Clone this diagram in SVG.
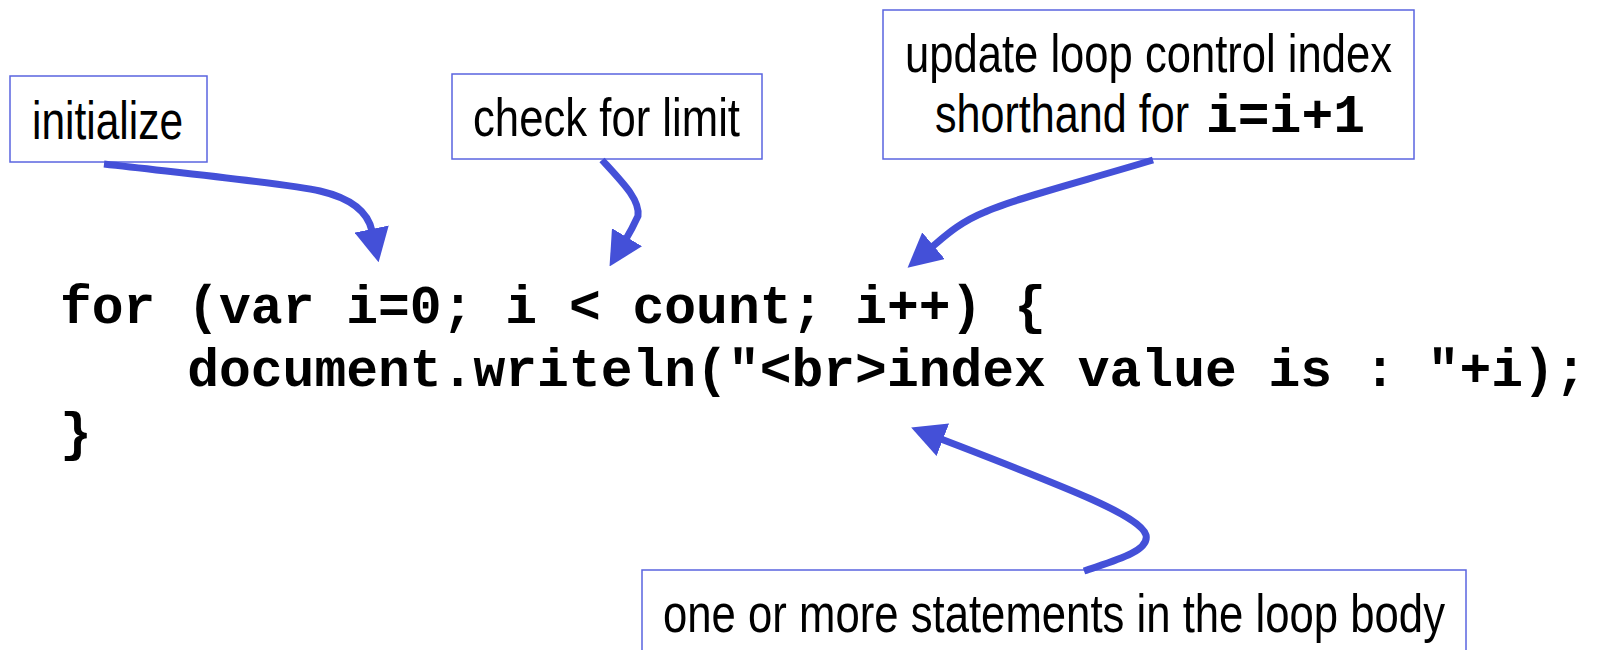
<svg xmlns="http://www.w3.org/2000/svg" width="1599" height="650" viewBox="0 0 1599 650">
  <style>
    .box { fill: #ffffff; stroke: #5a64e0; stroke-width: 1.5; }
    .lbl { font-family: "Liberation Sans", Arial, sans-serif; font-size: 53px; fill: #000000; }
    .code { font-family: "Liberation Mono", "Courier New", monospace; font-size: 53px; font-weight: bold; fill: #000000; }
    .conn { fill: none; stroke: #4450d8; stroke-width: 7; }
  </style>
  <defs>
    <marker id="head" viewBox="0 0 34 35" refX="2" refY="17.5" markerUnits="userSpaceOnUse" markerWidth="34" markerHeight="35" orient="auto">
      <path d="M0,0 L34,17.5 L0,35 z" fill="#4450d8"/>
    </marker>
  </defs>

  <rect width="1599" height="650" fill="#ffffff"/>

  <!-- the for-loop source -->
  <g id="code">
    <text class="code" x="60" y="323">for (var i=0; i &lt; count; i++) {</text>
    <text class="code" x="187.2" y="386">document.writeln("&lt;br&gt;index value is : "+i);</text>
    <text class="code" x="60" y="450">}</text>
  </g>

  <!-- callouts -->
  <g id="initialize">
    <rect class="box" x="10" y="76" width="197" height="86"/>
    <text class="lbl" x="32" y="139" textLength="151" lengthAdjust="spacingAndGlyphs">initialize</text>
  </g>

  <g id="check-limit">
    <rect class="box" x="452" y="74" width="310" height="85"/>
    <text class="lbl" x="473" y="136" textLength="267" lengthAdjust="spacingAndGlyphs">check for limit</text>
  </g>

  <g id="update-index">
    <rect class="box" x="883" y="10" width="531" height="149"/>
    <text class="lbl" x="905" y="72" textLength="487" lengthAdjust="spacingAndGlyphs">update loop control index</text>
    <text class="lbl" x="935" y="132"><tspan textLength="254" lengthAdjust="spacingAndGlyphs">shorthand for</tspan><tspan class="code" x="1206">i=i+1</tspan></text>
  </g>

  <g id="loop-body">
    <rect class="box" x="642" y="570" width="824" height="100"/>
    <text class="lbl" x="663" y="632" textLength="782" lengthAdjust="spacingAndGlyphs">one or more statements in the loop body</text>
  </g>

  <!-- connectors -->
  <g id="connectors">
    <path class="conn" marker-end="url(#head)" d="M104,164 C200,175 290,184 320,191 C350,198 368,212 372,231"/>
    <path class="conn" marker-end="url(#head)" d="M602,160 C624,184 640,200 638,216 Q632,229 626,239"/>
    <path class="conn" marker-end="url(#head)" d="M1153,160 C1080,182 1010,200 985,212 C960,222 945,236 932,247"/>
    <path class="conn" marker-end="url(#head)" d="M1084,571 C1110,562 1150,552 1146,535 C1140,515 1060,485 941,439"/>
  </g>
</svg>
